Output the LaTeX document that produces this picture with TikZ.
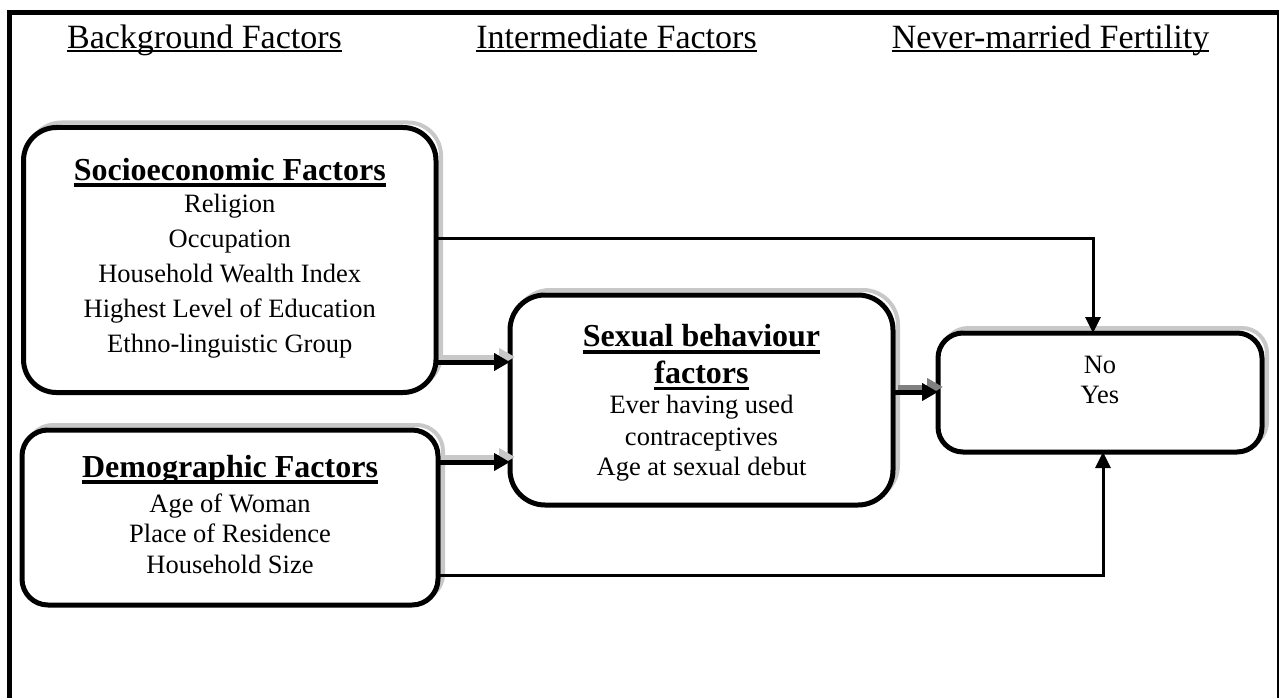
\documentclass[tikz,border=0pt]{standalone}
\usepackage{fontspec}
\setmainfont{Liberation Serif}
\usetikzlibrary{arrows.meta}
\definecolor{shgray}{RGB}{200,200,200}
\definecolor{shdark}{RGB}{128,128,128}
\newcommand\ulx[3]{{\setbox0\hbox{#3}\rlap{\rule[-#1]{\wd0}{#2}}\box0}}
\newcommand\bxt[3]{\raisebox{#1}[\height][\depth]{\fontsize{26.5pt}{#2}\selectfont\begin{tabular}[t]{@{}c@{}}#3\end{tabular}}}
\newcommand\ttl[1]{{\fontsize{32pt}{32pt}\selectfont\bfseries\ulx{6.8pt}{3.8pt}{#1}}}
\tikzset{
  box/.style={draw, line width=5pt, fill=white, rounded corners=#1, inner sep=0pt, outer sep=0pt,
    preaction={draw=shgray, line width=4pt, transform canvas={xshift=5pt,yshift=5pt}}},
  hdr/.style={anchor=base, inner sep=0pt, font=\fontsize{34pt}{40pt}\selectfont},
  thickarrow/.style={line width=5pt, -{Triangle[length=16pt,width=17pt]}},
  thinarrow/.style={line width=3pt, -{Triangle[length=16pt,width=15pt]}},
}
\begin{document}
\begin{tikzpicture}[x=1pt,y=-1pt]
\useasboundingbox (0,0) rectangle (1279,698);
% outer frame
\draw[line width=4.7pt] (9.7,720) -- (9.7,12.3) -- (1279.6,12.3) -- (1279.6,720);
% headers
\node[hdr] (hbg) at (204.5,48.5) {\ulx{4pt}{2.8pt}{Background Factors}};
\node[hdr] (hint) at (616.5,48.5) {\ulx{4pt}{2.8pt}{Intermediate Factors}};
\node[hdr] (hnm) at (1050.5,48.5) {\ulx{4pt}{2.8pt}{Never-married Fertility}};
% boxes
\node[box=33pt, minimum width=412.5pt, minimum height=265pt] (socio) at (229.75,260)
  {\bxt{1pt}{35pt}{\ttl{Socioeconomic Factors}\\[-3pt] Religion\\ Occupation\\ Household Wealth Index\\ Highest Level of Education\\ Ethno-linguistic Group}};
\node[box=26pt, minimum width=416pt, minimum height=175pt] (demo) at (230,517.5)
  {\bxt{-1.3pt}{31pt}{\ttl{Demographic Factors}\\[4pt] Age of Woman\\[-1pt] Place of Residence\\ Household Size}};
\node[box=35pt, minimum width=383pt, minimum height=210pt] (sex) at (701.5,400)
  {\bxt{-4.8pt}{31pt}{\ttl{Sexual behaviour}\\[5pt] \ttl{factors}\\[-1pt] Ever having used\\[1pt] contraceptives\\[-1pt] Age at sexual debut}};
\node[box=25pt, minimum width=324pt, minimum height=119pt] (out) at (1100,392.5)
  {\bxt{10.5pt}{30pt}{No\\ Yes}};
% helper levels
\coordinate (ya) at (0,238);
\coordinate (yb) at (0,362);
\coordinate (yc) at (0,462);
\coordinate (yd) at (0,392);
\coordinate (ye) at (0,575);
% thin direct paths
\draw[thinarrow] (socio.east |- ya) -| ([xshift=-7pt]out.north);
\draw[thinarrow] (demo.east |- ye) -| ([xshift=3pt]out.south);
% thick arrow shadows
\begin{scope}[transform canvas={xshift=5pt,yshift=5pt}]
\draw[thickarrow, color=shgray] (socio.east |- yb) -- (sex.west |- yb);
\draw[thickarrow, color=shgray] (demo.east |- yc) -- (sex.west |- yc);
\draw[thickarrow, color=shdark] (sex.east |- yd) -- (out.west |- yd);
\end{scope}
% thick arrows
\draw[thickarrow] (socio.east |- yb) -- (sex.west |- yb);
\draw[thickarrow] (demo.east |- yc) -- (sex.west |- yc);
\draw[thickarrow] (sex.east |- yd) -- (out.west |- yd);
\end{tikzpicture}
\end{document}
